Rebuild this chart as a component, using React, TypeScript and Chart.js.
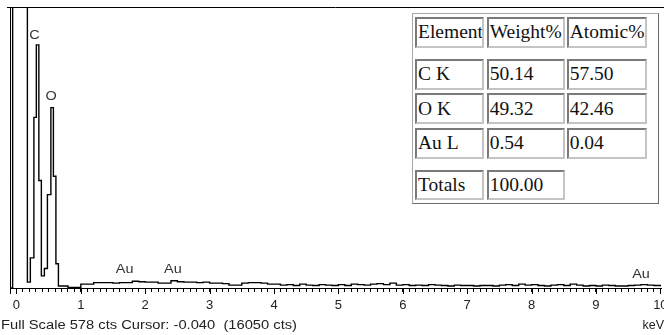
import React, { useEffect, useRef } from 'react';
import { Chart, registerables } from 'chart.js';

Chart.register(...registerables);

// ---------- DATA ----------
const FULL_SCALE_CTS = 578;
const X_MIN_KEV = -0.1;
const X_MAX_KEV = 10.01;

// low-energy region: bin left edges (keV) and counts
const peakBinStart = [-0.1, -0.059, 0.17, 0.216, 0.271, 0.309, 0.348, 0.387, 0.434, 0.481, 0.535, 0.574, 0.613, 0.652];
const peakBinCounts = [0, 3000, 12, 62, 351, 500, 221, 25, 40, 192, 371, 230, 50, 4];

// background region: 0.1 keV bins starting at 0.7 keV
const baselineStartKeV = 0.7;
const baselineBinKeV = 0.1;
const baselineCounts = [
  4, 1, 1, 8, 8, 11, 11, 11, 10, 11, 11, 14, 13, 12, 12, 10, 10, 15, 13, 12,
  12, 11, 12, 10, 10, 9, 6, 6, 10, 11, 11, 10, 8, 8,
  6, 7, 5, 8, 6, 5, 7, 6, 5,
  7, 5, 8, 7, 6, 8, 9, 7, 10, 6,
  7, 5, 6, 5, 7, 6, 5, 4, 6, 5,
  5, 4, 5, 5, 4, 6, 7, 5, 8, 6,
  7, 5, 4, 6, 7, 5, 8, 6, 4, 5,
  4, 6, 5, 4, 4, 5, 6, 7, 6, 5,
  5,
];

const xTickLabels = ['0', '1', '2', '3', '4', '5', '6', '7', '8', '9', '10'];

const peakLabelText = ['C', 'O', 'Au', 'Au', 'Au'];
const peakLabelKeV = [0.28, 0.54, 1.68, 2.43, 9.7];
const peakLabelCts = [518, 393, 37, 37, 27];

const footerText = 'Full Scale 578 cts Cursor: -0.040  (16050 cts)';
const unitText = 'keV';

const tableHeader = ['Element', 'Weight%', 'Atomic%'];
const tableElements = ['C K', 'O K', 'Au L'];
const tableWeight = ['50.14', '49.32', '0.54'];
const tableAtomic = ['57.50', '42.46', '0.04'];
const tableTotals = ['Totals', '100.00'];

// ---------- helpers ----------
function buildPoints() {
  const pts: { x: number; y: number }[] = [];
  for (let i = 0; i < peakBinStart.length; i++) pts.push({ x: peakBinStart[i], y: peakBinCounts[i] });
  for (let i = 0; i < baselineCounts.length; i++) {
    pts.push({ x: +(baselineStartKeV + i * baselineBinKeV).toFixed(3), y: baselineCounts[i] });
  }
  const last = baselineCounts[baselineCounts.length - 1];
  pts.push({ x: +(baselineStartKeV + baselineCounts.length * baselineBinKeV).toFixed(3), y: last });
  return pts;
}

const overlayPlugin = {
  id: 'edsOverlay',
  afterDraw(chart: any) {
    const { ctx, chartArea, scales } = chart;
    const xs = scales.x;
    const ys = scales.y;
    ctx.save();
    // frame: top line and left line
    ctx.strokeStyle = '#000';
    ctx.lineWidth = 1;
    ctx.beginPath();
    ctx.moveTo(chartArea.left - 3, Math.round(chartArea.top) + 0.5);
    ctx.lineTo(chart.width, Math.round(chartArea.top) + 0.5);
    ctx.moveTo(Math.round(chartArea.left) + 0.5, chartArea.top);
    ctx.lineTo(Math.round(chartArea.left) + 0.5, chartArea.bottom + 6);
    // longer major ticks at each labelled keV
    for (let i = 0; i < xTickLabels.length; i++) {
      const px = Math.round(xs.getPixelForValue(Number(xTickLabels[i]))) + 0.5;
      ctx.moveTo(px, chartArea.bottom);
      ctx.lineTo(px, chartArea.bottom + 6);
    }
    ctx.stroke();

    // peak labels
    ctx.fillStyle = '#333';
    ctx.font = '12px "Liberation Sans", Arial, sans-serif';
    ctx.textAlign = 'center';
    ctx.textBaseline = 'middle';
    for (let i = 0; i < peakLabelText.length; i++) {
      const px = xs.getPixelForValue(peakLabelKeV[i]);
      const py = ys.getPixelForValue(peakLabelCts[i]);
      ctx.save();
      ctx.translate(px, py);
      ctx.scale(1.2, 1);
      ctx.fillText(peakLabelText[i], 0, 0);
      ctx.restore();
    }

    // footer text
    ctx.fillStyle = '#222';
    ctx.font = '12.5px "Liberation Sans", Arial, sans-serif';
    ctx.textAlign = 'left';
    ctx.textBaseline = 'middle';
    const w = ctx.measureText(footerText).width;
    ctx.save();
    ctx.translate(1, 326);
    ctx.scale(296 / w, 1);
    ctx.fillText(footerText, 0, 0);
    ctx.restore();

    ctx.textAlign = 'right';
    ctx.fillText(unitText, chart.width, 326);
    ctx.restore();
  },
};

function ResultTable() {
  const colLeft = [415, 486.7, 566.7];
  const colWidth = [68.5, 78, 80.5];
  const rowTop = [16.7, 59.3, 93.3, 128.3, 170];
  const rowHeight = [31.6, 30.4, 30.7, 30.4, 30.4];
  const rows: string[][] = [
    tableHeader,
    ...tableElements.map((e, i) => [e, tableWeight[i], tableAtomic[i]]),
    tableTotals,
  ];
  const cells: any[] = [];
  rows.forEach((row, r) => {
    row.forEach((txt, c) => {
      cells.push(
        <div
          key={r + '-' + c}
          style={{
            position: 'absolute',
            left: colLeft[c],
            top: rowTop[r],
            width: colWidth[c],
            height: rowHeight[r],
            boxSizing: 'border-box',
            borderStyle: 'solid',
            borderWidth: 2,
            borderColor: '#7a7a7a #c4c4c4 #c4c4c4 #7a7a7a',
            font: '19.5px "Liberation Serif", "Times New Roman", serif',
            color: '#111',
            paddingLeft: 1,
            display: 'flex',
            alignItems: 'center',
            whiteSpace: 'nowrap',
            overflow: 'hidden',
          }}
        >
          {txt}
        </div>
      );
    });
  });
  return (
    <div>
      <div
        style={{
          position: 'absolute',
          left: 411.5,
          top: 12.5,
          width: 247,
          height: 191,
          boxSizing: 'border-box',
          background: '#fff',
          borderStyle: 'solid',
          borderWidth: 1.5,
          borderColor: '#a8a8a8 #6a6a6a #6a6a6a #a8a8a8',
        }}
      />
      {cells}
    </div>
  );
}

export default function App() {
  const ref = useRef<HTMLCanvasElement | null>(null);
  useEffect(() => {
    if (!ref.current) return;
    const minorTicks: number[] = [];
    for (let i = 0; i <= 101; i++) minorTicks.push(+(X_MIN_KEV + i * 0.1).toFixed(2));
    const chart = new Chart(ref.current, {
      type: 'line',
      data: {
        datasets: [
          {
            data: buildPoints(),
            borderColor: '#000',
            borderWidth: 1.4,
            pointRadius: 0,
            fill: false,
            stepped: true,
            tension: 0,
          },
        ],
      },
      options: {
        animation: false,
        responsive: false,
        events: [],
        layout: { padding: { left: 10, right: 3, top: 7, bottom: 0 } },
        plugins: { legend: { display: false }, tooltip: { enabled: false } },
        scales: {
          x: {
            type: 'linear',
            min: X_MIN_KEV,
            max: X_MAX_KEV,
            afterBuildTicks: (s: any) => {
              s.ticks = minorTicks.filter((v) => v <= X_MAX_KEV + 1e-9).map((v) => ({ value: v }));
            },
            afterFit: (s: any) => {
              s.height = 47;
              s.paddingLeft = 0;
              s.paddingRight = 0;
            },
            grid: {
              drawOnChartArea: false,
              drawTicks: true,
              tickLength: 4,
              tickColor: '#000',
              tickWidth: 1,
            },
            border: { display: true, color: '#000', width: 1 },
            ticks: {
              autoSkip: false,
              maxRotation: 0,
              minRotation: 0,
              padding: 6,
              color: '#222',
              font: { family: '"Liberation Sans", Arial, sans-serif', size: 13 },
              callback: (v: any) => {
                const n = Number(v);
                const r = Math.round(n);
                if (Math.abs(n - r) < 1e-6 && r >= 0 && r < xTickLabels.length) return xTickLabels[r];
                return '';
              },
            },
          },
          y: {
            display: false,
            min: 0,
            max: FULL_SCALE_CTS,
          },
        },
      },
      plugins: [overlayPlugin],
    });
    return () => chart.destroy();
  }, []);

  return (
    <div style={{ position: 'absolute', left: 0, top: 0, width: 664, height: 335, background: '#fff', overflow: 'hidden' }}>
      <canvas ref={ref} width={664} height={335} style={{ position: 'absolute', left: 0, top: 0 }} />
      <ResultTable />
    </div>
  );
}
